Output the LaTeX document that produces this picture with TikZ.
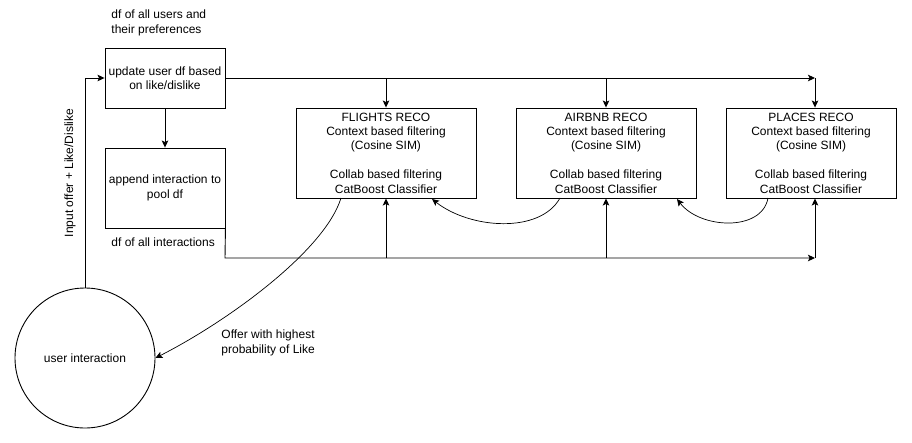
\documentclass[tikz,border=0pt]{standalone}
\usepackage{fontspec}
\setmainfont{Liberation Sans}
\usetikzlibrary{arrows.meta,calc}
\tikzset{
  every picture/.style={line width=0.9pt},
  box/.style={draw=black, line width=0.9pt, inner sep=0pt, align=center,
    font=\fontsize{12}{14.4}\selectfont},
  lbl/.style={inner sep=0pt, align=left, font=\fontsize{12}{14.4}\selectfont},
  arr/.style={-{Stealth[length=7pt,width=6.5pt,inset=1.5pt]}},
}
\begin{document}
\begin{tikzpicture}[x=1pt,y=-1pt]
\useasboundingbox (0,0) rectangle (912,442);
% boxes
\node[box, minimum width=120pt, minimum height=60pt] (b1) at (165,78) {update user df based\\on like/dislike};
\node[box, minimum width=120pt, minimum height=80pt] (b2) at (165,188) {append interaction to\\pool df};
\node[box, minimum width=180pt, minimum height=90pt] (fl) at (386,153) {FLIGHTS RECO\\Context based filtering\\(Cosine SIM)\\[14.4pt]Collab based filtering\\CatBoost Classifier};
\node[box, minimum width=180pt, minimum height=90pt] (ab) at (606,153) {AIRBNB RECO\\Context based filtering\\(Cosine SIM)\\[14.4pt]Collab based filtering\\CatBoost Classifier};
\node[box, minimum width=170pt, minimum height=90pt] (pl) at (811,153) {PLACES RECO\\Context based filtering\\(Cosine SIM)\\[14.4pt]Collab based filtering\\CatBoost Classifier};
\node[box, circle, minimum size=140pt] (ui) at (85,358) {user interaction};
% labels
\node[lbl, anchor=west] (l1) at (111,23) {df of all users and\\their preferences};
\node[lbl, anchor=west] (l2) at (111,242) {df of all interactions};
\node[lbl, anchor=west] (l3) at (221,343) {Offer with highest\\probability of Like};
\node[lbl, rotate=90] (l4) at (70,173) {Input offer + Like/Dislike};
% coordinates
\coordinate (tr) at (815,78);
\coordinate (br) at (815,258);
\coordinate (bl) at (225,258);
% top distribution
\draw[arr] (b1.east) -- (tr);
\draw[arr] (tr) -- (pl.north -| tr);
\draw[arr] (fl.north |- tr) -- (fl.north);
\draw[arr] (ab.north |- tr) -- (ab.north);
\draw[arr] (b1.south) -- (b2.north);
% bottom distribution
\draw[arr] (b2.south east) -- (bl) -- (br);
\draw[arr] (br) -- (pl.south -| br);
\draw[arr] (fl.south |- br) -- (fl.south);
\draw[arr] (ab.south |- br) -- (ab.south);
% input
\draw[arr] (ui.north) -- (ui.north |- b1.west) -- (b1.west);
% curves
\coordinate (abs) at (560,198);
\coordinate (fle) at (432,199);
\coordinate (pls) at (768,198);
\coordinate (abe) at (677,199);
\coordinate (fls) at (341,198);
\draw[arr, line width=0.7pt] (abs) .. controls (540,234) and (470,229) .. (fle);
\draw[arr, line width=0.7pt] (pls) .. controls (762,232) and (700,229) .. (abe);
\draw[arr, line width=0.7pt] (fls) .. controls (325,250) and (230,320) .. (ui.east);
\end{tikzpicture}
\end{document}
